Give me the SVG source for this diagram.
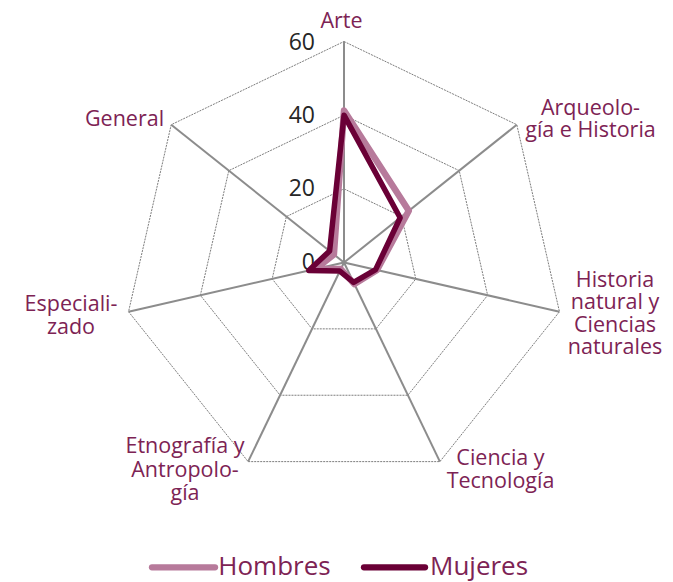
<svg xmlns="http://www.w3.org/2000/svg" width="673" height="582" viewBox="0 0 673 582">
<style>
.ring{fill:none;stroke:#5a5a5a;stroke-width:0.8;stroke-dasharray:2 1}
.axis{stroke:#8c8c8c;stroke-width:2;fill:none}
.lbl{font-family:"Open Sans","Liberation Sans",sans-serif;font-size:21.5px;fill:#7d2354;text-anchor:middle}
.num{font-family:"Open Sans","Liberation Sans",sans-serif;font-size:23px;fill:#262626;text-anchor:end}
.leg{font-family:"Open Sans","Liberation Sans",sans-serif;font-size:26px;fill:#7d2354}
.hom{fill:none;stroke:#b77a9b;stroke-width:6.5;stroke-linejoin:round}
.muj{fill:none;stroke:#6a0036;stroke-width:5.5;stroke-linejoin:round}
</style>
<rect width="673" height="582" fill="#ffffff"/>
<g id="grid">
<polygon class="ring" points="344,41.5 516.78,124.71 559.46,311.68 439.89,461.61 248.11,461.61 128.54,311.68 171.22,124.71"/>
<polygon class="ring" points="344,115.17 459.19,170.64 487.64,295.28 407.92,395.24 280.08,395.24 200.36,295.28 228.81,170.64"/>
<polygon class="ring" points="344,188.83 401.6,216.57 415.82,278.89 375.96,328.87 312.04,328.87 272.18,278.89 286.4,216.57"/>
</g>
<g id="connectors">
<line class="axis" x1="344" y1="262.5" x2="344" y2="41.5"/>
<line class="axis" x1="344" y1="262.5" x2="516.78" y2="124.71"/>
<line class="axis" x1="344" y1="262.5" x2="559.46" y2="311.68"/>
<line class="axis" x1="344" y1="262.5" x2="439.89" y2="461.61"/>
<line class="axis" x1="344" y1="262.5" x2="248.11" y2="461.61"/>
<line class="axis" x1="344" y1="262.5" x2="128.54" y2="311.68"/>
<line class="axis" x1="344" y1="262.5" x2="171.22" y2="124.71"/>
</g>
<g id="scale">
<text class="num" x="315" y="49.5">60</text>
<text class="num" x="315" y="123">40</text>
<text class="num" x="315" y="196">20</text>
<text class="num" x="315" y="269.5">0</text>
</g>
<g id="series-hombres">
<polygon class="hom" points="344,110.4 408.8,210.8 377,270 354.4,284.1 340.8,269.1 315.3,269.1 333.9,254.5"/>
</g>
<g id="series-mujeres">
<polygon class="muj" points="344,115.17 400.14,217.73 375.6,269.7 353.6,282.4 339.8,271.1 308.8,270.5 329.6,251"/>
</g>
<g id="node-arte"><text class="lbl" x="341.5" y="28.3">Arte</text></g>
<g id="node-arqueologia"><text class="lbl" x="590.5" y="115">Arqueolo-</text><text class="lbl" x="590.5" y="137.3">gía e Historia</text></g>
<g id="node-historia-natural"><text class="lbl" x="615" y="286.7">Historia</text><text class="lbl" x="615" y="309">natural y</text><text class="lbl" x="615" y="331.5">Ciencias</text><text class="lbl" x="615" y="354">naturales</text></g>
<g id="node-ciencia"><text class="lbl" x="500.5" y="465">Ciencia y</text><text class="lbl" x="500.5" y="488.3">Tecnología</text></g>
<g id="node-etnografia"><text class="lbl" x="185" y="453.3">Etnografía y</text><text class="lbl" x="185" y="477">Antropolo-</text><text class="lbl" x="185" y="500.3">gía</text></g>
<g id="node-especializado"><text class="lbl" x="71" y="311">Especiali-</text><text class="lbl" x="71" y="333.5">zado</text></g>
<g id="node-general"><text class="lbl" x="124.5" y="126">General</text></g>
<g id="legend">
<line x1="152" y1="567.3" x2="215" y2="567.3" stroke="#b77a9b" stroke-width="6.3" stroke-linecap="round"/>
<text class="leg" x="218.3" y="575.3">Hombres</text>
<line x1="364" y1="567.3" x2="425" y2="567.3" stroke="#6a0036" stroke-width="6.3" stroke-linecap="round"/>
<text class="leg" x="430" y="575.3">Mujeres</text>
</g>
</svg>
